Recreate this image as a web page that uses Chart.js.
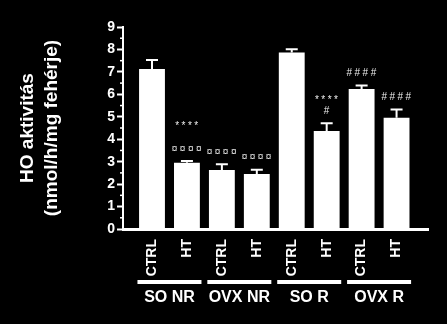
<!DOCTYPE html>
<html>
<head>
<meta charset="utf-8">
<script src="https://cdn.jsdelivr.net/npm/chart.js@4"></script>
<style>
  body { margin: 0; background: #000; }
  #wrap { width: 447px; height: 324px; }
</style>
</head>
<body>
<div id="wrap"><canvas id="myChart" width="447" height="324"></canvas></div>
<script>
// data
let categories = ['CTRL', 'HT', 'CTRL', 'HT', 'CTRL', 'HT', 'CTRL', 'HT'];
let groups = ['SO NR', 'OVX NR', 'SO R', 'OVX R'];
let means = [7.13, 2.95, 2.63, 2.45, 7.86, 4.37, 6.24, 4.96];
let sems = [0.40, 0.08, 0.25, 0.19, 0.15, 0.34, 0.15, 0.36];
let marks = [[], ['****', '', '¤¤¤¤'], ['¤¤¤¤'], ['¤¤¤¤'], [], ['****', '#'], ['####'], ['####']];
let yTicks = [0, 1, 2, 3, 4, 5, 6, 7, 8, 9];

// error bars, minor ticks, significance marks and group labels
const extras = {
    id: 'extras',
    afterDatasetsDraw(chart) {
        const ctx = chart.ctx;
        const x = chart.scales.x;
        const y = chart.scales.y;
        const area = chart.chartArea;
        ctx.save();
        ctx.strokeStyle = '#fff';
        ctx.fillStyle = '#fff';

        // minor ticks
        ctx.lineWidth = 1.5;
        for (let v = 0.5; v < 9; v += 1) {
            let py = y.getPixelForValue(v);
            ctx.beginPath();
            ctx.moveTo(area.left - 3, py);
            ctx.lineTo(area.left, py);
            ctx.stroke();
        }

        // error bars (upper only)
        ctx.lineWidth = 2;
        means.forEach((m, i) => {
            let px = x.getPixelForValue(i);
            let top = y.getPixelForValue(m + sems[i]);
            ctx.beginPath();
            ctx.moveTo(px, y.getPixelForValue(m));
            ctx.lineTo(px, top);
            ctx.moveTo(px - 6, top);
            ctx.lineTo(px + 6, top);
            ctx.stroke();
        });

        // significance marks
        ctx.font = '10px Arial';
        ctx.letterSpacing = '2.5px';
        ctx.textAlign = 'center';
        ctx.textBaseline = 'middle';
        ctx.fillStyle = '#eee';
        marks.forEach((lines, i) => {
            let px = x.getPixelForValue(i) + 1;
            let top = y.getPixelForValue(means[i] + sems[i]);
            for (let k = 0; k < lines.length; k++) {
                let py = top - 12 - (lines.length - 1 - k) * 11.5;
                ctx.fillText(lines[k], px, py);
            }
        });
        ctx.letterSpacing = '0px';

        // group underline and names
        ctx.fillStyle = '#fff';
        ctx.font = 'bold 16px Arial';
        groups.forEach((g, j) => {
            let mid = (x.getPixelForValue(2 * j) + x.getPixelForValue(2 * j + 1)) / 2;
            ctx.fillRect(mid - 32, area.bottom + 51, 64, 4);
            ctx.fillText(g, mid, area.bottom + 69);
        });
        ctx.restore();
    }
};

let ctx = document.getElementById('myChart').getContext('2d');
let myChart = new Chart(ctx, {
    type: 'bar',
    data: {
        datasets: [{
            data: means.map((v, i) => ({ x: i, y: v })),
            backgroundColor: '#fff',
            borderWidth: 0,
            barPercentage: 0.74,
            categoryPercentage: 1
        }]
    },
    options: {
        responsive: false,
        animation: false,
        layout: {
            padding: { top: 27, right: 19, bottom: 0, left: 0 }
        },
        plugins: {
            legend: { display: false },
            tooltip: { enabled: false }
        },
        scales: {
            x: {
                type: 'linear',
                offset: false,
                min: -0.83,
                max: 7.9,
                afterBuildTicks: (scale) => {
                    scale.ticks = categories.map((c, i) => ({ value: i }));
                },
                afterFit: (scale) => {
                    scale.height = 95;
                },
                grid: { display: false, offset: false },
                border: { display: true, color: '#fff', width: 3 },
                ticks: {
                    color: '#fff',
                    font: { family: 'Arial', weight: 'bold', size: 14 },
                    maxRotation: 90,
                    minRotation: 90,
                    padding: 2,
                    callback: (value, index) => categories[index]
                }
            },
            y: {
                min: 0,
                max: 9,
                afterBuildTicks: (scale) => {
                    scale.ticks = yTicks.map(v => ({ value: v }));
                },
                afterFit: (scale) => {
                    scale.width = 123;
                },
                grid: {
                    drawOnChartArea: false,
                    drawTicks: true,
                    tickLength: 6,
                    tickColor: '#fff',
                    tickWidth: 2
                },
                border: { display: true, color: '#fff', width: 2 },
                ticks: {
                    color: '#fff',
                    padding: 2,
                    font: { family: 'Arial', weight: 'bold', size: 14 }
                },
                title: {
                    display: true,
                    text: ['HO aktivitás', '(nmol/h/mg fehérje)'],
                    color: '#fff',
                    font: { family: 'Arial', weight: 'bold', size: 19, lineHeight: 1.26 },
                    padding: { top: 16, bottom: 0 }
                }
            }
        }
    },
    plugins: [extras]
});
</script>
</body>
</html>
